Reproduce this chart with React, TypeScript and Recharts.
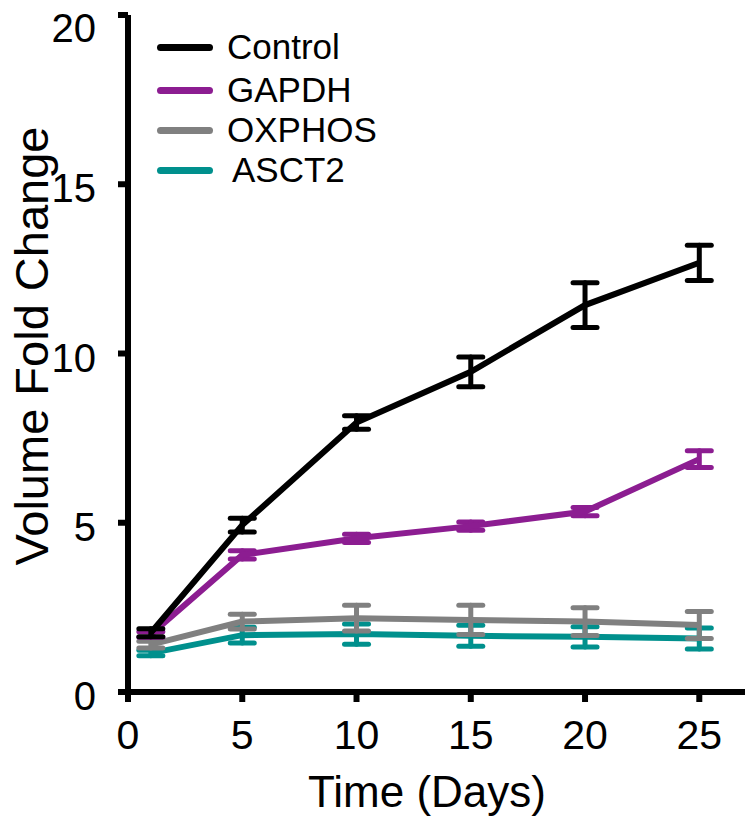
import { LineChart, Line, XAxis, YAxis, ErrorBar } from "recharts";

const days = [1, 5, 10, 15, 20, 25];
const control = [1.75, 4.93, 7.96, 9.46, 11.43, 12.68];
const controlErr = [0.12, 0.2, 0.2, 0.44, 0.66, 0.52];
const gapdh = [1.7, 4.05, 4.54, 4.9, 5.33, 6.88];
const gapdhErr = [0.08, 0.12, 0.12, 0.12, 0.12, 0.25];
const oxphos = [1.4, 2.08, 2.18, 2.13, 2.08, 1.98];
const oxphosErr = [0.1, 0.22, 0.38, 0.43, 0.41, 0.4];
const asct2 = [1.15, 1.68, 1.71, 1.66, 1.63, 1.58];
const asct2Err = [0.08, 0.23, 0.3, 0.31, 0.3, 0.31];

const xTicks = [0, 5, 10, 15, 20, 25];
const yTicks = [0, 5, 10, 15, 20];

const series = [
  { key: "control", name: "Control", color: "#000000" },
  { key: "gapdh", name: "GAPDH", color: "#8c1d91" },
  { key: "oxphos", name: "OXPHOS", color: "#808080" },
  { key: "asct2", name: "ASCT2", color: "#00908d" },
];

const data = days.map((d, i) => ({
  day: d,
  control: control[i],
  controlErr: controlErr[i],
  gapdh: gapdh[i],
  gapdhErr: gapdhErr[i],
  oxphos: oxphos[i],
  oxphosErr: oxphosErr[i],
  asct2: asct2[i],
  asct2Err: asct2Err[i],
}));

const FONT = "'Liberation Sans', Arial, sans-serif";

// legend drawn as an overlay so it doesn't eat into the plot area
function LegendBox() {
  return (
    <div style={{ position: "absolute", left: 157, top: 27, fontFamily: FONT }}>
      {series.map((s, i) => (
        <div
          key={s.key}
          style={{ display: "flex", alignItems: "center", height: 40, marginTop: i === 1 ? 3 : 0 }}
        >
          <div style={{ width: 56, height: 7, borderRadius: 4, background: s.color }} />
          <span style={{ fontSize: 35, marginLeft: s.key === "asct2" ? 19 : 14, color: "#000" }}>
            {s.name}
          </span>
        </div>
      ))}
    </div>
  );
}

function YLabel(props: any) {
  const vb = props.viewBox || {};
  const cx = 48;
  const cy = 346;
  return (
    <text
      x={cx}
      y={cy}
      transform={`rotate(-90 ${cx} ${cy})`}
      textAnchor="middle"
      fontSize={47}
      fontFamily={FONT}
      fill="#000"
    >
      Volume Fold Change
    </text>
  );
}

function XLabel() {
  return (
    <text x={427} y={807} textAnchor="middle" fontSize={44} fontFamily={FONT} fill="#000">
      Time (Days)
    </text>
  );
}

function App() {
  return (
    <div style={{ position: "relative", width: 750, height: 821 }}>
      <style>{`body{margin:0}`}</style>
      <LineChart
        width={750}
        height={821}
        data={data}
        margin={{ top: 15, right: 5, left: 0, bottom: 0 }}
      >
        <XAxis
          dataKey="day"
          type="number"
          domain={[0, 27]}
          ticks={xTicks}
          height={129}
          axisLine={{ stroke: "#000", strokeWidth: 6 }}
          tickLine={{ stroke: "#000", strokeWidth: 6 }}
          tickSize={10}
          tickMargin={18}
          tick={{ fontSize: 41, fill: "#000", fontFamily: FONT }}
          label={<XLabel />}
        />
        <YAxis
          type="number"
          domain={[0, 20]}
          ticks={yTicks}
          width={128}
          axisLine={{ stroke: "#000", strokeWidth: 6 }}
          tickLine={{ stroke: "#000", strokeWidth: 6 }}
          tickSize={10}
          tickMargin={22}
          tick={{ fontSize: 40, fill: "#000", fontFamily: FONT, dy: 4 }}
          label={<YLabel />}
        />
        {[...series].reverse().map((s) => (
          <Line
            key={s.key}
            dataKey={s.key}
            name={s.name}
            stroke={s.color}
            strokeWidth={6}
            dot={false}
            activeDot={false}
            isAnimationActive={false}
          >
            <ErrorBar
              dataKey={`${s.key}Err`}
              direction="y"
              width={12}
              stroke={s.color}
              strokeWidth={5}
              strokeLinecap="round"
            />
          </Line>
        ))}
      </LineChart>
      <LegendBox />
    </div>
  );
}

export default App;
